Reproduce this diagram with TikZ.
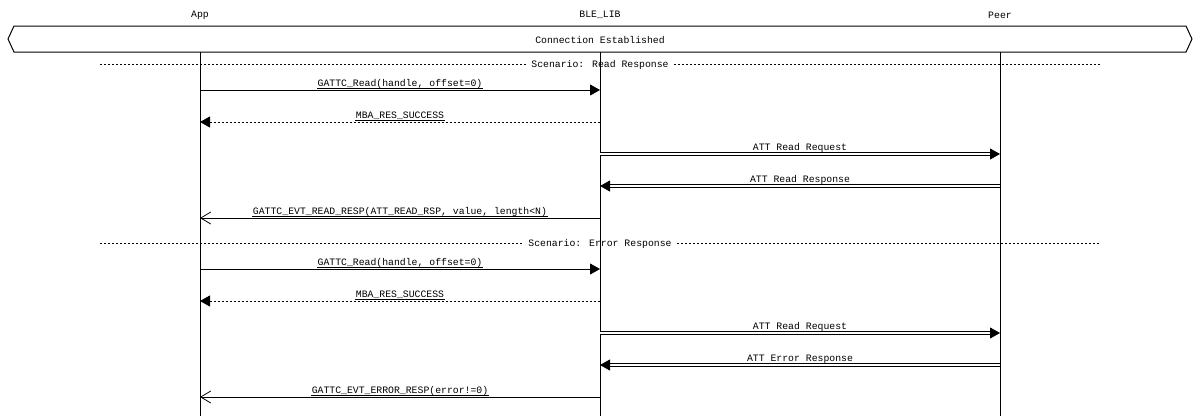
\documentclass[tikz,border=0pt]{standalone}
\usepackage{fontspec}
\setmainfont{Liberation Mono}
\usetikzlibrary{arrows.meta}
\newcommand{\mlab}[4]{%
  \node[msglbl] (#1) at (#2,#3-3.5) {#4};
  \draw[line width=0.8pt] ([yshift=-1.6pt]#1.base west) -- ([yshift=-1.6pt]#1.base east);}
\begin{document}
\begin{tikzpicture}[x=1pt,y=-1pt, line width=1pt,
  lbl/.style={font=\fontsize{9.8}{10}\selectfont, inner sep=0pt},
  msglbl/.style={lbl, anchor=base},
  sync/.style={-{Triangle[length=10pt,width=11pt]}},
  ret/.style={dash pattern=on 2pt off 2pt, -{Triangle[length=10pt,width=11pt]}},
  dbl/.style={double, double distance=1.6pt, line width=0.8pt, -{Triangle[length=10pt,width=11pt]}},
  cb/.style={-{Straight Barb[length=10pt,width=12pt,line width=0.8pt]}},
  divl/.style={dash pattern=on 2pt off 2pt, line width=0.8pt}]
\useasboundingbox (0,0) rectangle (1200,416);
% headings
\node[lbl] (hApp) at (200,15) {App};
\node[lbl] (hBle) at (600,15) {BLE\_LIB};
\node[lbl] (hPeer) at (1000,15) {Peer};
% lifelines
\coordinate (A0) at (200,52); \coordinate (AE) at (200,416);
\coordinate (B0) at (600,52); \coordinate (BE) at (600,416);
\coordinate (P0) at (1000,52); \coordinate (PE) at (1000,416);
\draw (A0) -- (AE);
\draw (B0) -- (BE);
\draw (P0) -- (PE);
% connection box
\draw (14,26) -- (1186,26) -- (1192,39) -- (1186,52) -- (14,52) -- (8,39) -- cycle;
\node[lbl] (conn) at (600,40) {Connection Established};
% rows: coordinates
\foreach \n/\y in {1/90,2/122,3/154,4/186,5/218,6/269,7/301,8/333,9/365,10/397}{
  \coordinate (a\n) at (200,\y);
  \coordinate (b\n) at (600,\y);
  \coordinate (p\n) at (1000,\y);
}
% divider 1
\node[lbl] (d1) at (600,65) {Scenario: Read Response};
\coordinate (d1l) at (100,64); \coordinate (d1r) at (1100,64);
\draw[divl] (d1l) -- ([xshift=-5pt]d1.west |- d1l);
\draw[divl] ([xshift=5pt]d1.east |- d1r) -- (d1r);
% scenario 1
\draw[sync] (a1) -- (b1);
\mlab{m1}{400}{90}{GATTC\_Read(handle, offset=0)}
\draw[ret] (b2) -- (a2);
\mlab{m2}{400}{122}{MBA\_RES\_SUCCESS}
\draw[dbl] (b3) -- (p3);
\mlab{m3}{800}{154}{ATT Read Request}
\draw[dbl] (p4) -- (b4);
\mlab{m4}{800}{186}{ATT Read Response}
\draw[cb] (b5) -- (a5);
\mlab{m5}{400}{218}{GATTC\_EVT\_READ\_RESP(ATT\_READ\_RSP, value, length<N)}
% divider 2
\node[lbl] (d2) at (600,244) {Scenario: Error Response};
\coordinate (d2l) at (100,243); \coordinate (d2r) at (1100,243);
\draw[divl] (d2l) -- ([xshift=-5pt]d2.west |- d2l);
\draw[divl] ([xshift=5pt]d2.east |- d2r) -- (d2r);
% scenario 2
\draw[sync] (a6) -- (b6);
\mlab{m6}{400}{269}{GATTC\_Read(handle, offset=0)}
\draw[ret] (b7) -- (a7);
\mlab{m7}{400}{301}{MBA\_RES\_SUCCESS}
\draw[dbl] (b8) -- (p8);
\mlab{m8}{800}{333}{ATT Read Request}
\draw[dbl] (p9) -- (b9);
\mlab{m9}{800}{365}{ATT Error Response}
\draw[cb] (b10) -- (a10);
\mlab{m10}{400}{397}{GATTC\_EVT\_ERROR\_RESP(error!=0)}
\end{tikzpicture}
\end{document}
